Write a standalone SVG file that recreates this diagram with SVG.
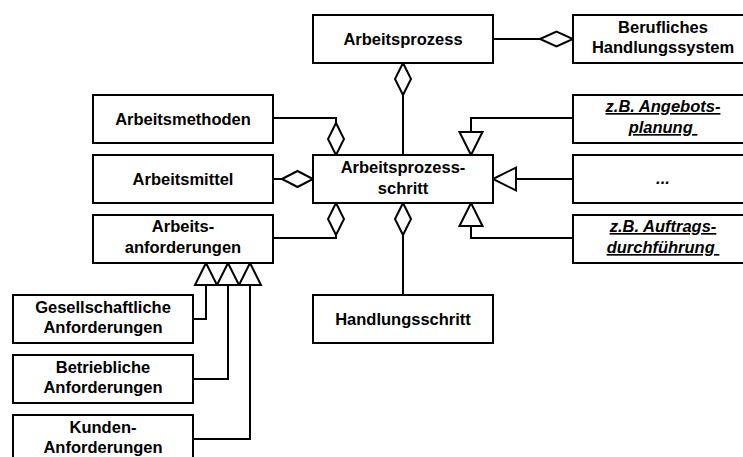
<svg xmlns="http://www.w3.org/2000/svg" width="743" height="457" viewBox="0 0 743 457">
  <style>
    .box { fill: #ffffff; stroke: #000000; stroke-width: 2; }
    .lbl { font-family: "Liberation Sans", Arial, sans-serif; font-size: 16.5px; font-weight: bold; text-anchor: middle; fill: #000000; }
    .ex { font-style: italic; text-decoration: underline; }
    .line { fill: none; stroke: #000000; stroke-width: 2; }
    .head { fill: #ffffff; stroke: #000000; stroke-width: 2; stroke-linejoin: miter; }
  </style>
  <rect width="743" height="457" fill="#ffffff"/>

  <!-- connectors -->
  <g id="connectors">
    <!-- aggregation: Arbeitsprozess -> Berufliches Handlungssystem -->
    <path class="line" d="M493,39 H540"/>
    <path class="head" d="M540,39 L556.5,31.5 L573,39 L556.5,46.5 Z"/>
    <!-- aggregation: Arbeitsprozessschritt -> Arbeitsprozess -->
    <path class="line" d="M403,95 V155"/>
    <path class="head" d="M403,63 L411,79 L403,95 L395,79 Z"/>
    <!-- aggregation: Arbeitsmethoden -> Arbeitsprozessschritt -->
    <path class="line" d="M273,118 H336 V123"/>
    <path class="head" d="M336,123 L344,139 L336,155 L328,139 Z"/>
    <!-- aggregation: Arbeitsmittel -> Arbeitsprozessschritt -->
    <path class="line" d="M273,179 H282"/>
    <path class="head" d="M282,179 L297.5,171 L313,179 L297.5,187 Z"/>
    <!-- aggregation: Arbeitsanforderungen -> Arbeitsprozessschritt -->
    <path class="line" d="M273,238 H336 V235"/>
    <path class="head" d="M336,203 L344,219 L336,235 L328,219 Z"/>
    <!-- aggregation: Handlungsschritt -> Arbeitsprozessschritt -->
    <path class="line" d="M403,235 V295"/>
    <path class="head" d="M403,203 L411,219 L403,235 L395,219 Z"/>

    <!-- generalization: examples -> Arbeitsprozessschritt -->
    <path class="line" d="M573,118 H471 V132"/>
    <path class="head" d="M471,155 L459.5,132 L482.5,132 Z"/>
    <path class="line" d="M573,179 H516"/>
    <path class="head" d="M493,179 L516,167.5 L516,190.5 Z"/>
    <path class="line" d="M573,238 H471 V226"/>
    <path class="head" d="M471,203 L459.5,226 L482.5,226 Z"/>

    <!-- generalization: requirement kinds -> Arbeitsanforderungen -->
    <path class="line" d="M193,319 H206 V285"/>
    <path class="line" d="M193,379 H228 V285"/>
    <path class="line" d="M193,439 H250 V285"/>
    <path class="head" d="M206,263 L195,285 L217,285 Z"/>
    <path class="head" d="M228,263 L217,285 L239,285 Z"/>
    <path class="head" d="M250,263 L239,285 L261,285 Z"/>
  </g>

  <!-- nodes -->
  <g id="arbeitsprozess">
    <rect class="box" x="313" y="15" width="180" height="48"/>
    <text class="lbl" x="403" y="45">Arbeitsprozess</text>
  </g>
  <g id="berufliches-handlungssystem">
    <rect class="box" x="573" y="15" width="180" height="48"/>
    <text class="lbl" x="663" y="33">Berufliches</text>
    <text class="lbl" x="663" y="53">Handlungssystem</text>
  </g>
  <g id="arbeitsmethoden">
    <rect class="box" x="93" y="95" width="180" height="48"/>
    <text class="lbl" x="183" y="125">Arbeitsmethoden</text>
  </g>
  <g id="arbeitsmittel">
    <rect class="box" x="93" y="155" width="180" height="48"/>
    <text class="lbl" x="183" y="185">Arbeitsmittel</text>
  </g>
  <g id="arbeitsanforderungen">
    <rect class="box" x="93" y="215" width="180" height="48"/>
    <text class="lbl" x="183" y="232">Arbeits-</text>
    <text class="lbl" x="183" y="253">anforderungen</text>
  </g>
  <g id="arbeitsprozessschritt">
    <rect class="box" x="313" y="155" width="180" height="48"/>
    <text class="lbl" x="403" y="173">Arbeitsprozess-</text>
    <text class="lbl" x="403" y="194">schritt</text>
  </g>
  <g id="handlungsschritt">
    <rect class="box" x="313" y="295" width="180" height="48"/>
    <text class="lbl" x="403" y="325">Handlungsschritt</text>
  </g>
  <g id="angebotsplanung">
    <rect class="box" x="573" y="95" width="180" height="48"/>
    <text class="lbl ex" x="663" y="112">z.B. Angebots-</text>
    <text class="lbl ex" x="663" y="133" xml:space="preserve">planung </text>
  </g>
  <g id="weitere">
    <rect class="box" x="573" y="155" width="180" height="48"/>
    <text class="lbl" x="663" y="184" font-style="italic">...</text>
  </g>
  <g id="auftragsdurchfuehrung">
    <rect class="box" x="573" y="215" width="180" height="48"/>
    <text class="lbl ex" x="663" y="232">z.B. Auftrags-</text>
    <text class="lbl ex" x="663" y="253" xml:space="preserve">durchführung </text>
  </g>
  <g id="gesellschaftliche-anforderungen">
    <rect class="box" x="13" y="295" width="180" height="48"/>
    <text class="lbl" x="103" y="313">Gesellschaftliche</text>
    <text class="lbl" x="103" y="333">Anforderungen</text>
  </g>
  <g id="betriebliche-anforderungen">
    <rect class="box" x="13" y="355" width="180" height="48"/>
    <text class="lbl" x="103" y="373">Betriebliche</text>
    <text class="lbl" x="103" y="393">Anforderungen</text>
  </g>
  <g id="kunden-anforderungen">
    <rect class="box" x="13" y="415" width="180" height="48"/>
    <text class="lbl" x="103" y="433">Kunden-</text>
    <text class="lbl" x="103" y="453">Anforderungen</text>
  </g>
</svg>
